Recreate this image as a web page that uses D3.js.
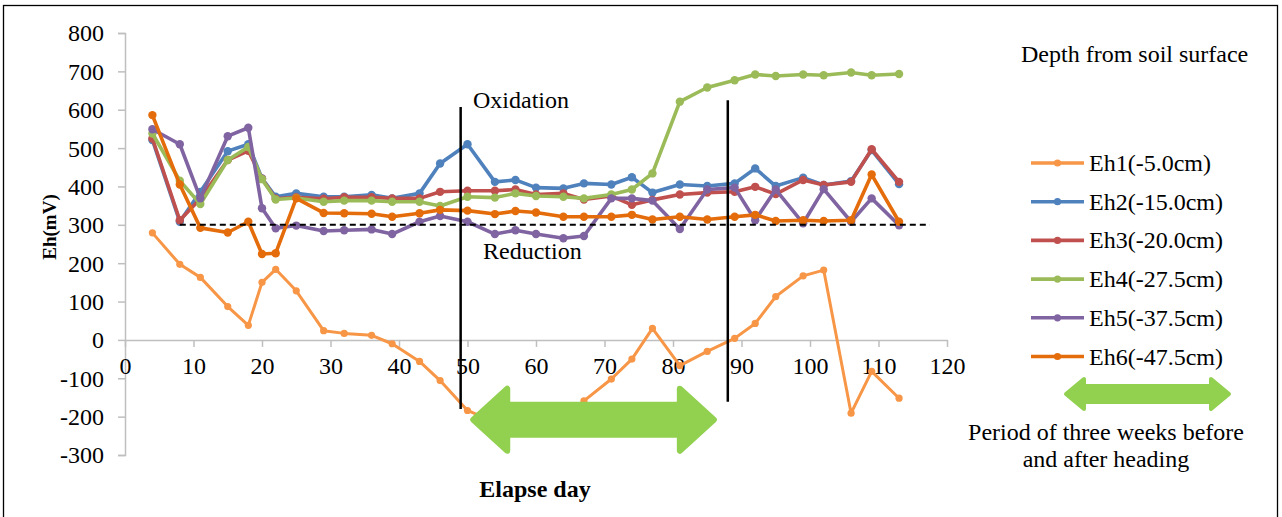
<!DOCTYPE html>
<html>
<head>
<meta charset="utf-8">
<script src="https://cdn.jsdelivr.net/npm/d3@7"></script>
<style>
  html, body { margin: 0; padding: 0; background: #fff; }
  svg { display: block; }
  text { font-family: "Liberation Serif", "Times New Roman", serif; fill: #000; }
</style>
</head>
<body>
<svg id="chart" width="1282" height="517"></svg>
<script>
// Sampling days (elapsed days after transplanting)
const days = [4, 8, 11, 15, 18, 20, 22, 25, 29, 32, 36, 39, 43, 46, 50, 54, 57, 60, 64, 67,
              71, 74, 77, 81, 85, 89, 92, 95, 99, 102, 106, 109, 113];

// Redox potential Eh (mV) at each depth
const eh1 = [279, 197, 163, 87, 38, 150, 184, 128, 24, 17, 12, -10, -56, -106, -184, -215, -228, -222, -205, -159,
             -102, -50, 30, -67, -30, 4, 43, 113, 167, 182, -191, -82, -152];
const eh2 = [521, 308, 386, 492, 510, 421, 373, 382, 373, 373, 378, 369, 382, 460, 510, 412, 417, 397, 395, 408,
             405, 424, 384, 405, 401, 408, 447, 401, 423, 404, 414, 495, 406];
const eh3 = [525, 312, 368, 469, 493, 420, 368, 372, 368, 372, 372, 369, 369, 386, 389, 389, 392, 379, 382, 366,
             375, 352, 365, 379, 384, 386, 399, 380, 417, 404, 412, 497, 412];
const eh4 = [538, 415, 354, 469, 503, 419, 366, 370, 360, 363, 363, 360, 360, 349, 373, 371, 382, 375, 373, 369,
             379, 392, 434, 621, 658, 677, 692, 688, 692, 690, 697, 690, 693];
const eh5 = [549, 510, 369, 531, 553, 343, 291, 298, 284, 286, 288, 276, 308, 323, 308, 276, 286, 276, 265, 271,
             369, 369, 363, 289, 392, 397, 312, 392, 304, 393, 308, 369, 299];
const eh6 = [586, 405, 292, 280, 308, 224, 226, 369, 331, 330, 329, 321, 330, 339, 337, 328, 336, 332, 321, 321,
             321, 326, 314, 321, 314, 321, 326, 310, 312, 310, 312, 431, 308];

const seriesNames = ["Eh1(-5.0cm)", "Eh2(-15.0cm)", "Eh3(-20.0cm)", "Eh4(-27.5cm)", "Eh5(-37.5cm)", "Eh6(-47.5cm)"];
const seriesValues = [eh1, eh2, eh3, eh4, eh5, eh6];
const seriesColors = ["#F79646", "#4F81BD", "#C0504D", "#9BBB59", "#8064A2", "#E46C0A"];

const xTicks = [0, 10, 20, 30, 40, 50, 60, 70, 80, 90, 100, 110, 120];
const yTicks = [-300, -200, -100, 0, 100, 200, 300, 400, 500, 600, 700, 800];

// Reference level and the oxidation / reduction boundaries (day, mV)
const thresholdLine = { from: 8, to: 117.5, value: 300 };
const boundaryLines = [
  { day: 49, top: 607, bottom: -180 },
  { day: 88, top: 625, bottom: -161 }
];
const headingPeriod = { from: 50.4, to: 86.4, value: -208 };

const svg = d3.select("#chart");
const FONT = "'Liberation Serif', 'Times New Roman', serif";

// outer frame
svg.append("rect")
  .attr("x", 3.5).attr("y", 5.5)
  .attr("width", 1274).attr("height", 530)
  .attr("fill", "none").attr("stroke", "#000").attr("stroke-width", 1.3);

const x = d3.scaleLinear().domain([0, 120]).range([125, 947]);
const y = d3.scaleLinear().domain([-300, 800]).range([455, 33]);

const axisColor = "#BFBFBF";
const plain = d => String(d);

// y axis
const yAxis = svg.append("g")
  .attr("transform", `translate(${x(0)},0)`)
  .call(d3.axisLeft(y).tickValues(yTicks).tickSize(7).tickPadding(14).tickFormat(plain))
  .attr("font-family", FONT).attr("font-size", 24);
yAxis.select(".domain").attr("stroke", axisColor).attr("stroke-width", 1.5);
yAxis.selectAll(".tick line").attr("stroke", axisColor).attr("stroke-width", 1.5);
yAxis.selectAll(".tick text").attr("fill", "#000").attr("dy", "0.33em");

// x axis sits on the zero line
const xAxis = svg.append("g")
  .attr("transform", `translate(0,${y(0)})`)
  .call(d3.axisBottom(x).tickValues(xTicks).tickSize(7).tickPadding(10).tickSizeOuter(0).tickFormat(plain))
  .attr("font-family", FONT).attr("font-size", 24);
xAxis.select(".domain").attr("stroke", axisColor).attr("stroke-width", 1.5);
xAxis.selectAll(".tick line").attr("stroke", axisColor).attr("stroke-width", 1.5);
xAxis.selectAll(".tick text").attr("fill", "#000");

// axis titles
svg.append("text")
  .attr("transform", `translate(56,${(y(800) + y(-300)) / 2 - 17}) rotate(-90)`)
  .attr("text-anchor", "middle")
  .style("font-size", "19px").style("font-weight", "bold")
  .text("Eh(mV)");
svg.append("text")
  .attr("x", 535).attr("y", 497)
  .attr("text-anchor", "middle")
  .style("font-size", "24px").style("font-weight", "bold")
  .text("Elapse day");

// series
const line = d3.line().x((d, i) => x(days[i])).y(d => y(d));
seriesValues.forEach((vals, k) => {
  const g = svg.append("g");
  g.append("path")
    .datum(vals)
    .attr("d", line)
    .attr("fill", "none")
    .attr("stroke", seriesColors[k])
    .attr("stroke-width", k === 0 ? 3 : 3.6)
    .attr("stroke-linejoin", "round");
  g.selectAll("circle")
    .data(vals)
    .join("circle")
    .attr("cx", (d, i) => x(days[i]))
    .attr("cy", d => y(d))
    .attr("r", k === 0 ? 3.6 : 4.2)
    .attr("fill", seriesColors[k]);
});

// threshold dashed line
svg.append("line")
  .attr("x1", x(thresholdLine.from)).attr("x2", x(thresholdLine.to))
  .attr("y1", y(thresholdLine.value)).attr("y2", y(thresholdLine.value))
  .attr("stroke", "#000").attr("stroke-width", 2).attr("stroke-dasharray", "6,4");

// oxidation / reduction boundaries
boundaryLines.forEach(b => {
  svg.append("line")
    .attr("x1", x(b.day)).attr("x2", x(b.day))
    .attr("y1", y(b.top)).attr("y2", y(b.bottom))
    .attr("stroke", "#000").attr("stroke-width", 2.5);
});

svg.append("text").attr("x", 473).attr("y", 108).style("font-size", "24px").text("Oxidation");
svg.append("text").attr("x", 483).attr("y", 259).style("font-size", "24px").text("Reduction");

// double-headed arrow
function doubleArrow(x0, x1, cy, headLen, headHalf, bodyHalf) {
  const p = d3.path();
  p.moveTo(x0, cy);
  p.lineTo(x0 + headLen, cy - headHalf);
  p.lineTo(x0 + headLen, cy - bodyHalf);
  p.lineTo(x1 - headLen, cy - bodyHalf);
  p.lineTo(x1 - headLen, cy - headHalf);
  p.lineTo(x1, cy);
  p.lineTo(x1 - headLen, cy + headHalf);
  p.lineTo(x1 - headLen, cy + bodyHalf);
  p.lineTo(x0 + headLen, cy + bodyHalf);
  p.lineTo(x0 + headLen, cy + headHalf);
  p.closePath();
  return p.toString();
}
const arrowColor = "#92D050";
svg.append("path")
  .attr("d", doubleArrow(x(headingPeriod.from) + 3, x(headingPeriod.to) - 3, y(headingPeriod.value), 34, 31, 15))
  .attr("fill", arrowColor).attr("stroke", arrowColor)
  .attr("stroke-width", 6).attr("stroke-linejoin", "round");

// legend
svg.append("text").attr("x", 1021).attr("y", 62).style("font-size", "24px").text("Depth from soil surface");
const legendY0 = 163, legendStep = 38.7;
seriesNames.forEach((name, k) => {
  const ly = legendY0 + k * legendStep;
  svg.append("line")
    .attr("x1", 1031).attr("x2", 1084).attr("y1", ly).attr("y2", ly)
    .attr("stroke", seriesColors[k]).attr("stroke-width", 3.6);
  svg.append("circle").attr("cx", 1057.5).attr("cy", ly).attr("r", 3.6).attr("fill", seriesColors[k]);
  svg.append("text")
    .attr("x", 1089).attr("y", ly + 8)
    .style("font-size", "24px")
    .text(name);
});

svg.append("path")
  .attr("d", doubleArrow(1066, 1229, 394, 18, 15, 8))
  .attr("fill", arrowColor).attr("stroke", arrowColor)
  .attr("stroke-width", 4).attr("stroke-linejoin", "round");

svg.append("text").attr("x", 1106).attr("y", 440).attr("text-anchor", "middle")
  .style("font-size", "24px").text("Period of three weeks before");
svg.append("text").attr("x", 1106).attr("y", 467).attr("text-anchor", "middle")
  .style("font-size", "24px").text("and after heading");
</script>
</body>
</html>
